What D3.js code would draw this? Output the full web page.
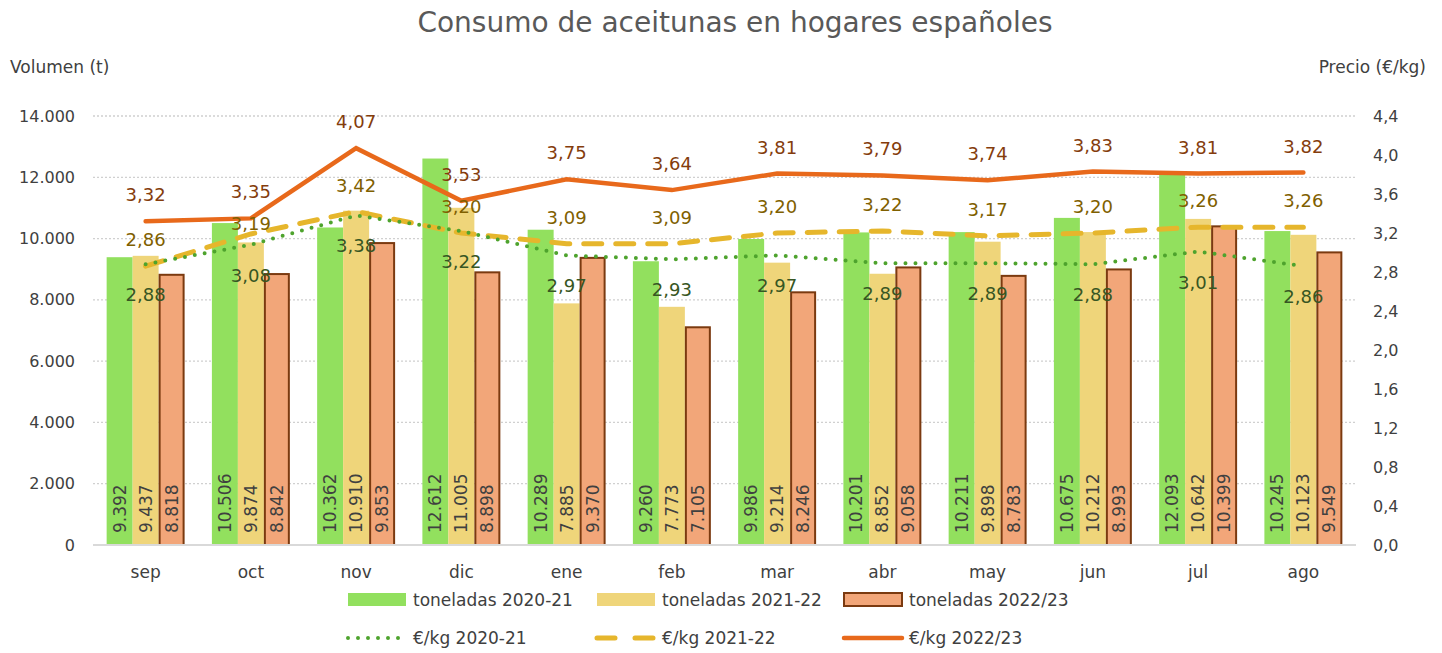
<!DOCTYPE html>
<html>
<head>
<meta charset="utf-8">
<script src="https://cdn.jsdelivr.net/npm/d3@7"></script>
<style>
    body { margin: 0; background: #fff; }
    text { font-family: "DejaVu Sans", sans-serif; }
</style>
</head>
<body>
<div id="chart"></div>
<script>
var months = ["sep", "oct", "nov", "dic", "ene", "feb", "mar", "abr", "may", "jun", "jul", "ago"];

var ton2021 = [9392, 10506, 10362, 12612, 10289, 9260, 9986, 10201, 10211, 10675, 12093, 10245];
var ton2122 = [9437, 9874, 10910, 11005, 7885, 7773, 9214, 8852, 9898, 10212, 10642, 10123];
var ton2223 = [8818, 8842, 9853, 8898, 9370, 7105, 8246, 9058, 8783, 8993, 10399, 9549];

var eur2021 = [2.88, 3.08, 3.38, 3.22, 2.97, 2.93, 2.97, 2.89, 2.89, 2.88, 3.01, 2.86];
var eur2122 = [2.86, 3.19, 3.42, 3.20, 3.09, 3.09, 3.20, 3.22, 3.17, 3.20, 3.26, 3.26];
var eur2223 = [3.32, 3.35, 4.07, 3.53, 3.75, 3.64, 3.81, 3.79, 3.74, 3.83, 3.81, 3.82];

var leftTicks = [0, 2000, 4000, 6000, 8000, 10000, 12000, 14000];
var rightTicks = [0, 0.4, 0.8, 1.2, 1.6, 2.0, 2.4, 2.8, 3.2, 3.6, 4.0, 4.4];

var W = 1442, H = 653;
var plot = {left: 93, right: 1356, top: 116, bottom: 545};

var svg = d3.select("#chart").append("svg")
    .attr("width", W)
    .attr("height", H);

var fmtT = function (v) { return d3.format(",")(v).replace(/,/g, "."); };
var fmtE = function (v) { return v.toFixed(2).replace(".", ","); };
var fmtE1 = function (v) { return v.toFixed(1).replace(".", ","); };

//scales
var x = d3.scaleBand()
    .domain(months)
    .range([plot.left, plot.right]);

var x1 = d3.scaleBand()
    .domain([0, 1, 2])
    .range([0, x.bandwidth()])
    .paddingInner(0)
    .paddingOuter(0.525);

var y = d3.scaleLinear().domain([0, 14000]).range([plot.bottom, plot.top]);
var y2 = d3.scaleLinear().domain([0, 4.4]).range([plot.bottom, plot.top]);

//title
svg.append("text")
    .attr("x", 735).attr("y", 32)
    .attr("text-anchor", "middle")
    .attr("fill", "#595959")
    .style("font-size", "28px")
    .text("Consumo de aceitunas en hogares españoles");

svg.append("text")
    .attr("x", 10).attr("y", 73)
    .attr("fill", "#404040")
    .style("font-size", "17px")
    .text("Volumen  (t)");

svg.append("text")
    .attr("x", 1426).attr("y", 73)
    .attr("text-anchor", "end")
    .attr("fill", "#404040")
    .style("font-size", "17px")
    .text("Precio (€/kg)");

//grid
svg.append("g").selectAll("line")
    .data(leftTicks.slice(1))
    .enter().append("line")
    .attr("x1", plot.left).attr("x2", plot.right)
    .attr("y1", function (d) { return y(d); })
    .attr("y2", function (d) { return y(d); })
    .attr("stroke", "#d0d0d0")
    .attr("stroke-width", 1.3)
    .attr("stroke-dasharray", "2,2");

//left axis
var yAxisCall = d3.axisLeft(y).tickValues(leftTicks).tickFormat(fmtT).tickSize(0).tickPadding(0);
var gl = svg.append("g")
    .attr("transform", "translate(75,0)")
    .call(yAxisCall);
gl.select(".domain").remove();
gl.selectAll("text")
    .attr("fill", "#404040")
    .style("font-size", "16px");

//right axis
var y2AxisCall = d3.axisRight(y2).tickValues(rightTicks).tickFormat(fmtE1).tickSize(0).tickPadding(0);
var gr = svg.append("g")
    .attr("transform", "translate(1373,0)")
    .call(y2AxisCall);
gr.select(".domain").remove();
gr.selectAll("text")
    .attr("fill", "#404040")
    .style("font-size", "16px");

//bars
var series = [
    {vals: ton2021, fill: "#92e05e", stroke: "none", lab: "#404040"},
    {vals: ton2122, fill: "#efd57a", stroke: "none", lab: "#404040"},
    {vals: ton2223, fill: "#f2a679", stroke: "#7b3a10", lab: "#404040"}
];

series.forEach(function (s, i) {
    var g = svg.append("g");
    g.selectAll("rect")
        .data(s.vals)
        .enter().append("rect")
        .attr("x", function (d, j) { return x(months[j]) + x1(i) + (s.stroke === "none" ? 0 : 1); })
        .attr("y", function (d) { return y(d); })
        .attr("width", x1.bandwidth() - (s.stroke === "none" ? 0 : 2))
        .attr("height", function (d) { return y(0) - y(d); })
        .attr("fill", s.fill)
        .attr("stroke", s.stroke)
        .attr("stroke-width", 2);

    g.selectAll("text")
        .data(s.vals)
        .enter().append("text")
        .attr("transform", function (d, j) {
            var cx = x(months[j]) + x1(i) + x1.bandwidth() / 2 + 6;
            return "translate(" + cx + "," + (plot.bottom - 12) + ") rotate(-90)";
        })
        .attr("fill", s.lab)
        .style("font-size", "17px")
        .text(function (d) { return fmtT(d); });
});

//axis baseline
svg.append("line")
    .attr("x1", plot.left).attr("x2", plot.right)
    .attr("y1", plot.bottom).attr("y2", plot.bottom)
    .attr("stroke", "#d9d9d9")
    .attr("stroke-width", 2);

//month labels
svg.append("g").selectAll("text")
    .data(months)
    .enter().append("text")
    .attr("x", function (d) { return x(d) + x.bandwidth() / 2; })
    .attr("y", 578)
    .attr("text-anchor", "middle")
    .attr("fill", "#404040")
    .style("font-size", "17px")
    .text(function (d) { return d; });

//lines
var cx = function (d, j) { return x(months[j]) + x.bandwidth() / 2; };
var lineFn = d3.line().x(cx).y(function (d) { return y2(d); });

var lines = [
    {vals: eur2223, color: "#e8691b", width: 4.5, dash: null, cap: "round", lab: "#843c0c", dy: -20},
    {vals: eur2122, color: "#e6b62c", width: 5, dash: "18,14", cap: "round", lab: "#7f6000", dy: -20},
    {vals: eur2021, color: "#4ea32d", width: 4, dash: "0,10", cap: "round", lab: "#375623", dy: 37}
];

lines.forEach(function (l) {
    svg.append("path")
        .datum(l.vals)
        .attr("d", lineFn)
        .attr("fill", "none")
        .attr("stroke", l.color)
        .attr("stroke-width", l.width)
        .attr("stroke-linecap", l.cap)
        .attr("stroke-dasharray", l.dash);
});

// yellow labels get pushed down when they would collide with the orange ones
var labelY = function (l, d, j) {
    var base = y2(d) + l.dy;
    if (l.vals === eur2122) {
        var above = y2(eur2223[j]) + lines[0].dy;
        if (base - above < 30) base = above + 32;
    }
    return base;
};

lines.forEach(function (l) {
    svg.append("g").selectAll("text")
        .data(l.vals)
        .enter().append("text")
        .attr("x", cx)
        .attr("y", function (d, j) { return labelY(l, d, j); })
        .attr("text-anchor", "middle")
        .attr("fill", l.lab)
        .style("font-size", "18px")
        .text(function (d) { return fmtE(d); });
});

//legend
var legend = [
    {type: "bar", fill: "#92e05e", stroke: "none", x: 348, y: 600, text: "toneladas 2020-21"},
    {type: "bar", fill: "#efd57a", stroke: "none", x: 597, y: 600, text: "toneladas 2021-22"},
    {type: "bar", fill: "#f2a679", stroke: "#7b3a10", x: 844, y: 600, text: "toneladas 2022/23"},
    {type: "line", color: "#4ea32d", width: 4, dash: "0,10", x: 348, y: 638, text: "€/kg 2020-21"},
    {type: "line", color: "#e6b62c", width: 5, dash: "18,20", x: 597, y: 638, text: "€/kg 2021-22"},
    {type: "line", color: "#e8691b", width: 4.5, dash: null, x: 844, y: 638, text: "€/kg 2022/23"}
];

legend.forEach(function (d) {
    if (d.type === "bar") {
        svg.append("rect")
            .attr("x", d.x).attr("y", d.y - 7)
            .attr("width", 58).attr("height", 13)
            .attr("fill", d.fill)
            .attr("stroke", d.stroke)
            .attr("stroke-width", 2);
    } else {
        svg.append("line")
            .attr("x1", d.x).attr("x2", d.x + 58)
            .attr("y1", d.y).attr("y2", d.y)
            .attr("stroke", d.color)
            .attr("stroke-width", d.width)
            .attr("stroke-linecap", "round")
            .attr("stroke-dasharray", d.dash);
    }
    svg.append("text")
        .attr("x", d.x + 65).attr("y", d.y + 6)
        .attr("fill", "#404040")
        .style("font-size", "17px")
        .text(d.text);
});
</script>
</body>
</html>
